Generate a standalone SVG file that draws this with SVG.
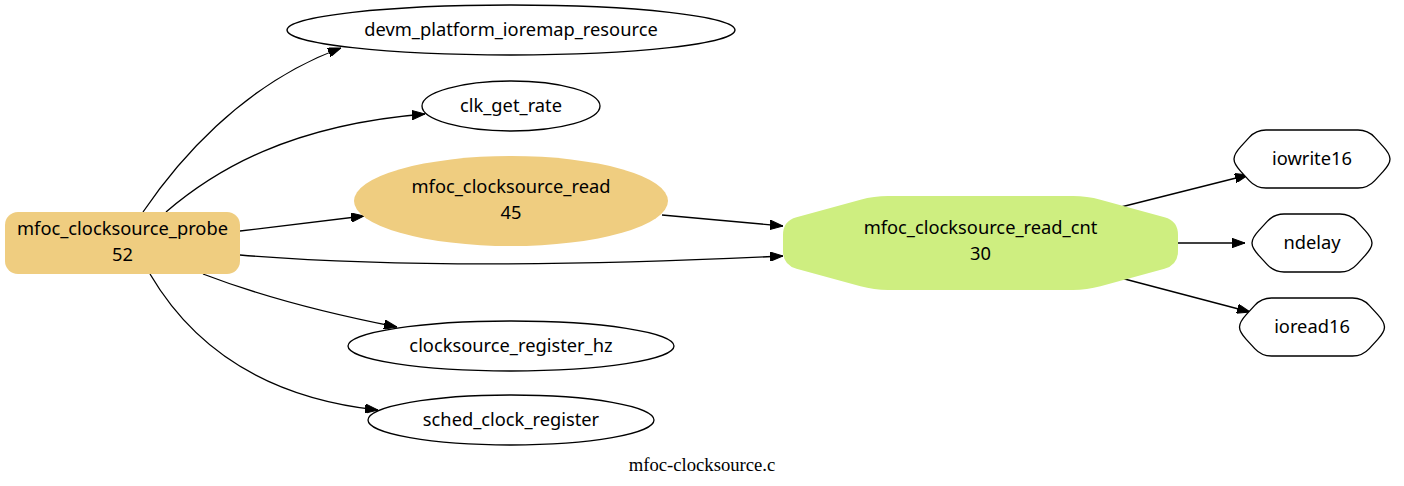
<svg xmlns="http://www.w3.org/2000/svg" width="1404" height="486" viewBox="0 0 1404 486">
<defs>
<marker id="arr" viewBox="0 0 13 9.4" refX="13" refY="4.7" markerWidth="13" markerHeight="9.4" markerUnits="userSpaceOnUse" orient="auto">
<path d="M0,0 L13,4.7 L0,9.4 Z" fill="#000" stroke="#000" stroke-width="1"/>
</marker>
</defs>
<style>
.t{font-family:"Noto Sans",sans-serif;font-size:18.3px;fill:#000;text-anchor:middle}
.w{fill:#fff;stroke:#000;stroke-width:1.33}
.o{fill:#efcd80;stroke:none}
.g{fill:#ceee80;stroke:none}
.e{fill:none;stroke:#000;stroke-width:1.33;marker-end:url(#arr)}
</style>
<rect width="1404" height="486" fill="#fff"/>
<g id="edges">
<path class="e" d="M143,212 C175,165 240,85 341,48"/>
<path class="e" d="M166,212 C215,170 290,125 425,114"/>
<path class="e" d="M240,231 L364,216"/>
<path class="e" d="M240,255 C400,268 600,265 783,256"/>
<path class="e" d="M662,215 L783,226"/>
<path class="e" d="M203,274 C250,292 320,312 397,327"/>
<path class="e" d="M150,274 C180,325 240,395 378,410"/>
<path class="e" d="M1117,208 L1248,175"/>
<path class="e" d="M1178,243 L1245,243"/>
<path class="e" d="M1117,277 L1250,312"/>
</g>
<g id="mfoc_clocksource_probe">
<rect class="o" x="5" y="212" width="235" height="62" rx="13"/>
<text class="t" x="122.5" y="235">mfoc_clocksource_probe</text>
<text class="t" x="122.5" y="261">52</text>
</g>
<g id="devm_platform_ioremap_resource">
<ellipse class="w" cx="511" cy="30" rx="224" ry="25"/>
<text class="t" x="511" y="36">devm_platform_ioremap_resource</text>
</g>
<g id="clk_get_rate">
<ellipse class="w" cx="511" cy="106" rx="89" ry="25"/>
<text class="t" x="511" y="112">clk_get_rate</text>
</g>
<g id="mfoc_clocksource_read">
<ellipse class="o" cx="511" cy="201" rx="157" ry="45"/>
<text class="t" x="511" y="193">mfoc_clocksource_read</text>
<text class="t" x="511" y="219">45</text>
</g>
<g id="clocksource_register_hz">
<ellipse class="w" cx="511" cy="346" rx="163" ry="25"/>
<text class="t" x="511" y="352">clocksource_register_hz</text>
</g>
<g id="sched_clock_register">
<ellipse class="w" cx="511" cy="420" rx="143" ry="25"/>
<text class="t" x="511" y="426">sched_clock_register</text>
</g>
<g id="mfoc_clocksource_read_cnt">
<path class="g" transform="translate(980.5,243)" d="M-92.5,-47 L92.5,-47 Q106.5,-47 120,-43.3 L184,-25.7 Q197.5,-22 197.5,-8 L197.5,8 Q197.5,22 184,25.7 L120,43.3 Q106.5,47 92.5,47 L-92.5,47 Q-106.5,47 -120,43.3 L-184,25.7 Q-197.5,22 -197.5,8 L-197.5,-8 Q-197.5,-22 -184,-25.7 L-120,-43.3 Q-106.5,-47 -92.5,-47 Z"/>
<text class="t" x="980.5" y="234">mfoc_clocksource_read_cnt</text>
<text class="t" x="980.5" y="260">30</text>
</g>
<g id="iowrite16">
<path class="w" transform="translate(1312,159)" d="M-46,-29 L46,-29 Q56,-29 62.75,-21.6 L71.25,-12.4 Q78,-5 78,0 Q78,5 71.25,12.4 L62.75,21.6 Q56,29 46,29 L-46,29 Q-56,29 -62.75,21.6 L-71.25,12.4 Q-78,5 -78,0 Q-78,-5 -71.25,-12.4 L-62.75,-21.6 Q-56,-29 -46,-29 Z"/>
<text class="t" x="1312" y="165">iowrite16</text>
</g>
<g id="ndelay">
<path class="w" transform="translate(1312,243)" d="M-28,-29 L28,-29 Q38,-29 44.75,-21.6 L53.25,-12.4 Q60,-5 60,0 Q60,5 53.25,12.4 L44.75,21.6 Q38,29 28,29 L-28,29 Q-38,29 -44.75,21.6 L-53.25,12.4 Q-60,5 -60,0 Q-60,-5 -53.25,-12.4 L-44.75,-21.6 Q-38,-29 -28,-29 Z"/>
<text class="t" x="1312" y="249">ndelay</text>
</g>
<g id="ioread16">
<path class="w" transform="translate(1312,327)" d="M-40.5,-29 L40.5,-29 Q50.5,-29 57.25,-21.6 L65.75,-12.4 Q72.5,-5 72.5,0 Q72.5,5 65.75,12.4 L57.25,21.6 Q50.5,29 40.5,29 L-40.5,29 Q-50.5,29 -57.25,21.6 L-65.75,12.4 Q-72.5,5 -72.5,0 Q-72.5,-5 -65.75,-12.4 L-57.25,-21.6 Q-50.5,-29 -40.5,-29 Z"/>
<text class="t" x="1312" y="333">ioread16</text>
</g>
<text x="702" y="471" style="font-family:'Liberation Serif',serif;font-size:18.67px;text-anchor:middle;fill:#000">mfoc-clocksource.c</text>
</svg>
